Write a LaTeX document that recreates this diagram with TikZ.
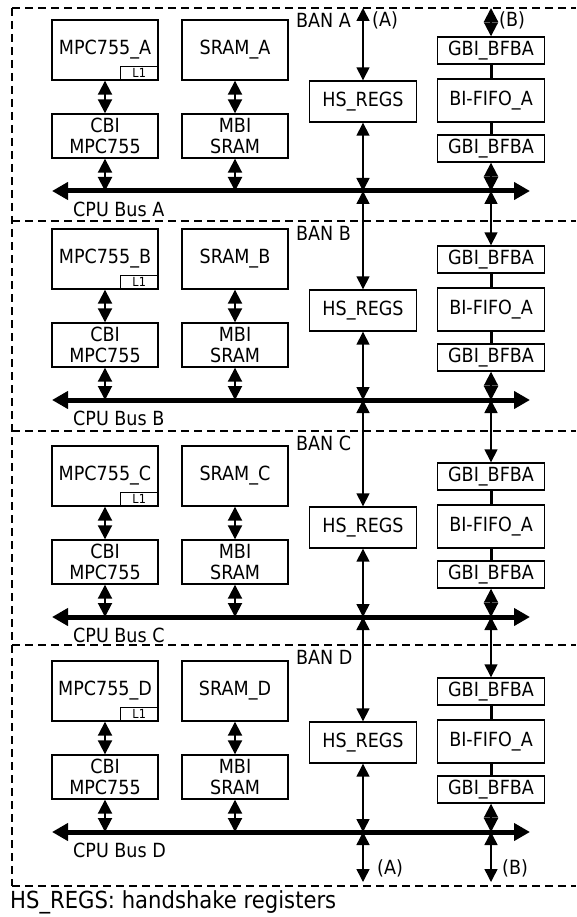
\documentclass[tikz,border=0pt]{standalone}
\usepackage{fontspec}
\setmainfont{DejaVu Sans}[FakeStretch=0.9]
\usetikzlibrary{arrows.meta}

\begin{document}
\begin{tikzpicture}[x=1pt,y=-1pt,
    box/.style={draw, line width=1.4pt, inner sep=0pt, align=center, font=\fontsize{19.5}{21}\selectfont},
    cachebox/.style={draw, line width=1pt, inner sep=0pt, minimum width=38pt, minimum height=14pt, font=\fontsize{12.5}{12.5}\selectfont},
    link/.style={line width=2pt, {Triangle[length=14pt,width=14pt]}-{Triangle[length=14pt,width=14pt]}},
    longlink/.style={line width=1.5pt, {Triangle[length=13pt,width=13pt]}-{Triangle[length=13pt,width=13pt]}},
    busline/.style={line width=5pt, {Triangle[length=16pt,width=17pt]}-{Triangle[length=16pt,width=17pt]}},
    banline/.style={dash pattern=on 8pt off 5pt, line width=1.3pt},
    lbl/.style={font=\fontsize{19.5}{21}\selectfont, inner sep=0pt}]
    \useasboundingbox (0,0) rectangle (576,917);

    % frame of the four BANs
    \draw[banline] (12,8) -- (12,886);
    \draw[banline] (12,886) -- (576,886);

    \foreach \s/\t/\b in {A/8/191, B/221/400, C/431/617, D/645/832}
    {
        \draw[banline] (12,\t) -- (576,\t);
        \node[lbl, anchor=west] (ban\s) at (296,\t+12.5) {BAN \s};

        % CPU bus
        \coordinate (busw\s) at (52,\b);
        \coordinate (buse\s) at (530,\b);
        \coordinate (jone\s) at (105,\b);
        \coordinate (jtwo\s) at (235,\b);
        \coordinate (jthree\s) at (363,\b);
        \coordinate (jfour\s) at (491,\b);
        \draw[busline] (busw\s) -- (buse\s);
        \node[lbl, anchor=west] (cpu\s) at (73,\b+18) {CPU Bus \s};

        \node[box, minimum width=106pt, minimum height=60pt] (mpc\s) at (105,\b-141) {MPC755\_\s};
        \node[cachebox, anchor=south east] (lone\s) at (mpc\s.south east) {L1};
        \node[box, minimum width=106pt, minimum height=44pt] (cbi\s) at (105,\b-55) {CBI\\MPC755};
        \node[box, minimum width=106pt, minimum height=60pt] (sram\s) at (235,\b-141) {SRAM\_\s};
        \node[box, minimum width=106pt, minimum height=44pt] (mbi\s) at (235,\b-55) {MBI\\SRAM};
        \node[box, minimum width=107pt, minimum height=41pt] (hs\s) at (363,\b-89.5) {HS\_REGS};
        \node[box, minimum width=107pt, minimum height=27pt] (gbiu\s) at (491,\b-140.5) {GBI\_BFBA};
        \node[box, minimum width=107pt, minimum height=43pt] (fifo\s) at (491,\b-90.5) {BI-FIFO\_A};
        \node[box, minimum width=107pt, minimum height=27pt] (gbil\s) at (491,\b-42.5) {GBI\_BFBA};

        \draw[link] (mpc\s) -- (cbi\s);
        \draw[link] (cbi\s) -- (jone\s);
        \draw[link] (sram\s) -- (mbi\s);
        \draw[link] (mbi\s) -- (jtwo\s);
        \draw[longlink] (hs\s) -- (jthree\s);
        \draw[line width=3pt] (gbiu\s) -- (fifo\s);
        \draw[line width=3pt] (fifo\s) -- (gbil\s);
        \draw[link] (gbil\s) -- (jfour\s);
    }

    % links between the BANs
    \foreach \p/\n in {A/B, B/C, C/D}
    {
        \draw[longlink] (jthree\p) -- (hs\n);
        \draw[longlink] (jfour\p) -- (gbiu\n);
    }

    % outside links (A) and (B)
    \coordinate (inA) at (363,8);
    \coordinate (inB) at (491,8);
    \coordinate (outA) at (363,882);
    \coordinate (outB) at (491,882);
    \draw[longlink] (inA) -- (hsA);
    \draw[link] (inB) -- (gbiuA);
    \draw[longlink] (jthreeD) -- (outA);
    \draw[longlink] (jfourD) -- (outB);
    \node[lbl, anchor=west] (tagina) at (372,20) {(A)};
    \node[lbl, anchor=west] (taginb) at (499,20) {(B)};
    \node[lbl, anchor=west] (tagouta) at (377,868) {(A)};
    \node[lbl, anchor=west] (tagoutb) at (502,868) {(B)};

    \node[font=\fontsize{23.5}{25}\selectfont, inner sep=0pt, anchor=west] (legend) at (10,902) {HS\_REGS: handshake registers};
\end{tikzpicture}
\end{document}
